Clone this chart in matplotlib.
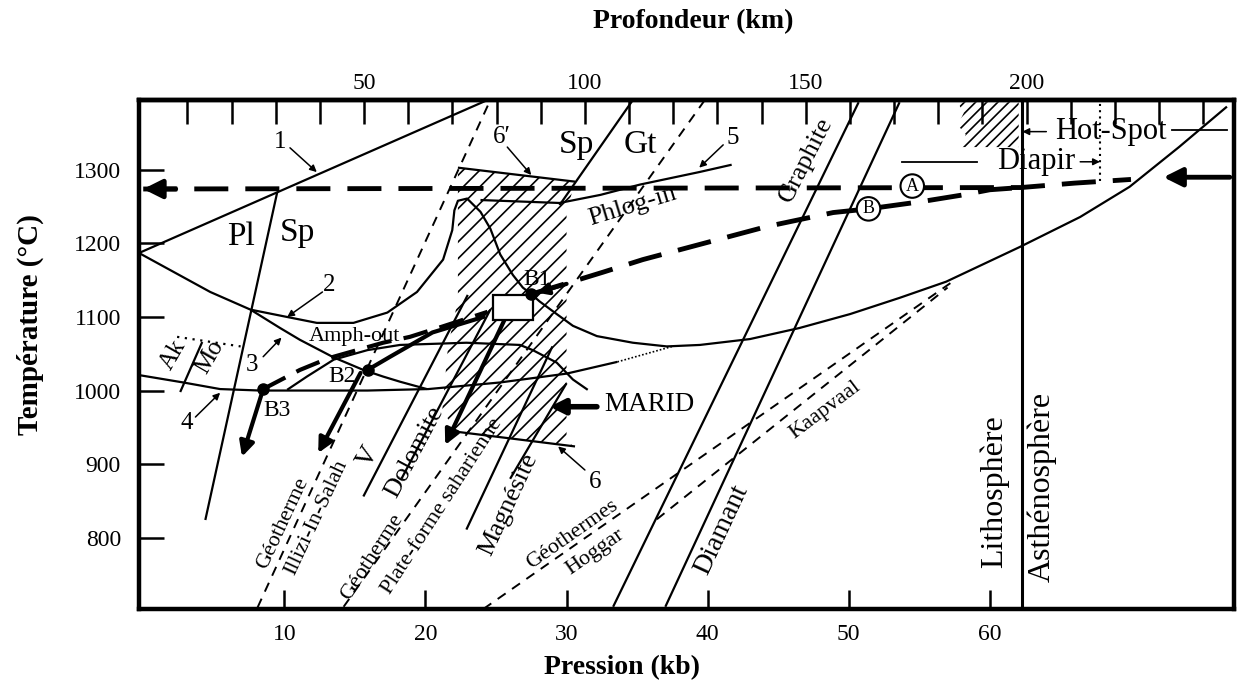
import matplotlib
matplotlib.use('Agg')
import matplotlib.pyplot as plt
from matplotlib.patches import Polygon, Rectangle

plt.rcParams['font.family'] = ['Liberation Serif', 'DejaVu Serif']
plt.rcParams['hatch.linewidth'] = 1.2

# ---------------- axes data ----------------
P_LIM = (-0.3, 77.3)
T_LIM = (703, 1395)
p_ticks = [10, 20, 30, 40, 50, 60]
t_ticks = [800, 900, 1000, 1100, 1200, 1300]
depth_ticks = list(range(10, 250, 10))
depth_labelled = [50, 100, 150, 200]
KB_PER_KM = 0.313

# ---------------- curves (P kb, T degC) ----------------
c1_P = [-0.3, 24.4]
c1_T = [1187, 1395]

c2_P = [-0.3, 4.75, 7.6, 10.2, 12.3, 14.9, 17.3, 19.4, 21.25, 21.9, 22.05, 22.3, 22.95,
        23.9, 24.6, 25.3, 26.2, 26.9, 27.5, 28.1, 29.3, 30.45, 32.15, 34.7, 37.1, 39.45,
        43.0, 46.5, 50.1, 53.6, 56.9, 62.1, 66.4, 69.9, 73.4, 76.8]
c2_T = [1187, 1134, 1110, 1100, 1092, 1092, 1106, 1134, 1178, 1218, 1245, 1258, 1261,
        1243, 1220, 1185, 1157, 1140, 1131, 1121, 1104, 1088, 1074, 1065, 1060, 1062,
        1070, 1085, 1104, 1126, 1148, 1195, 1236, 1277, 1331, 1386]

c3_P = [7.6, 9.7, 11.1, 13.5, 15.6, 17.0, 18.2, 20.1]
c3_T = [1110, 1085, 1069, 1045, 1028, 1019, 1012, 1002]

c4_P = [-0.3, 2.83, 5.45, 8.3, 11.1, 15.9, 20.2, 25.3, 30.0, 33.6]
c4_T = [1021, 1011, 1002, 1000, 1000, 1000, 1002, 1011, 1023, 1039]
c4dot_P = [33.6, 37.5]
c4dot_T = [1039, 1060]

amph_P = [10.2, 11.6, 13.5, 15.9, 18.2, 22.9, 26.7, 27.6, 29.3, 30.45, 31.5]
amph_T = [1001, 1019, 1042, 1055, 1062, 1065, 1062, 1055, 1038, 1015, 1001]

plsp_P = [9.5, 4.4]
plsp_T = [1270, 824]

akmo_P = [2.62, 4.18]
akmo_T = [998, 1066]
akmo_dot_P = [2.4, 6.9]
akmo_dot_T = [1073, 1060]

illizi_P = [8.1, 24.6]
illizi_T = [705, 1395]
pf_P = [14.2, 39.8]
pf_T = [706, 1395]
hoggar_P = [24.1, 57.2]
hoggar_T = [703, 1146]
kaap_P = [36.4, 57.0]
kaap_T = [825, 1140]

g1_P = [33.3, 50.7]
g1_T = [706, 1392]
g2_P = [37.0, 53.6]
g2_T = [706, 1392]

dol1_P = [15.6, 23.0]
dol1_T = [856, 1130]
dol2_P = [18.3, 24.6]
dol2_T = [880, 1110]
mag1_P = [22.9, 29.0]
mag1_T = [811, 1060]
mag2_P = [26.0, 30.0]
mag2_T = [880, 1010]

spgt_P = [34.7, 29.5]
spgt_T = [1395, 1252]
phlog_P = [23.9, 29.5, 32.4, 35.2, 39.4, 41.7]
phlog_T = [1259, 1255, 1266, 1280, 1297, 1307]

l6p_P = [22.3, 30.6]
l6p_T = [1303, 1284]
l6_P = [22.2, 30.6]
l6_T = [944, 924]

marid_P = [22.3, 30.6, 30.0, 30.0, 30.5, 22.1, 21.2, 21.6, 22.3]
marid_T = [1303, 1284, 1243, 930, 925, 944, 975, 1060, 1123]

hot_P = [57.72, 62.04, 62.04, 58.0, 58.29, 57.72, 58.14]
hot_T = [1392, 1392, 1331, 1331, 1348, 1361, 1377]

litho_P = 62.25
diapir_P = 67.8

pathA_P = [0.0, 30.0, 62.2, 66.0, 70.0]
pathA_T = [1274, 1275, 1276, 1282, 1287]
pathB_P = [27.5, 32.6, 35.4, 39.9, 44.2, 48.9, 51.4, 55.2, 58.1, 60.0, 62.2]
pathB_T = [1131, 1161, 1178, 1201, 1223, 1242, 1247, 1257, 1266, 1273, 1276]
pathB3_P = [8.5, 9.8, 11.1, 12.5, 13.5, 17.0, 18.9, 21.2, 24.4]
pathB3_T = [1002, 1015, 1028, 1039, 1046, 1065, 1073, 1087, 1107]
pathB2_P = [15.9, 17.5, 20.5, 24.1]
pathB2_T = [1028, 1046, 1079, 1100]

pts_name = ['B1', 'B2', 'B3']
pts_P = [27.5, 15.9, 8.5]
pts_T = [1131, 1028, 1002]

# ---------------- figure ----------------
fig = plt.figure(figsize=(12.43, 6.97), dpi=100)
ax = fig.add_axes([139/1243, 1-609/697, (1234-139)/1243, (609-100)/697])
ax.set_xlim(*P_LIM)
ax.set_ylim(*T_LIM)
for s in ax.spines.values():
    s.set_linewidth(3.2)

ax.set_xticks(p_ticks)
ax.set_yticks(t_ticks)
ax.tick_params(axis='x', direction='in', length=14, width=1.8, labelsize=17, pad=11)
ax.tick_params(axis='y', direction='in', length=18, width=1.8, labelsize=17, pad=13)

sec = ax.secondary_xaxis('top', functions=(lambda p: p / KB_PER_KM, lambda d: d * KB_PER_KM))
sec.set_xticks(depth_ticks)
sec.set_xticklabels([str(d) if d in depth_labelled else '' for d in depth_ticks])
sec.tick_params(direction='in', length=17, width=1.8, labelsize=17, pad=4)
sec.spines['top'].set_linewidth(3.2)

fig.text(693/1243, 1-22/697, 'Profondeur (km)', ha='center', va='center', fontsize=20, fontweight='bold')
fig.text(622/1243, 1-668/697, 'Pression (kb)', ha='center', va='center', fontsize=20, fontweight='bold')
fig.text(30/1243, 1-325/697, 'Température (°C)', ha='center', va='center', fontsize=21,
         fontweight='bold', rotation=90)

K = 'black'
lw = 1.6
# hatched regions
ax.add_patch(Polygon(list(zip(marid_P, marid_T)), closed=True, fill=False, hatch='//',
                     edgecolor=K, linewidth=0, zorder=1))
ax.add_patch(Polygon(list(zip(hot_P, hot_T)), closed=True, fill=False, hatch='///',
                     edgecolor=K, linewidth=0, zorder=1))

for xs, ys in [(c1_P, c1_T), (c2_P, c2_T), (c3_P, c3_T), (c4_P, c4_T), (amph_P, amph_T),
               (plsp_P, plsp_T), (akmo_P, akmo_T), (g1_P, g1_T), (g2_P, g2_T),
               (dol1_P, dol1_T), (dol2_P, dol2_T), (mag1_P, mag1_T), (mag2_P, mag2_T),
               (spgt_P, spgt_T), (phlog_P, phlog_T), (l6p_P, l6p_T), (l6_P, l6_T)]:
    ax.plot(xs, ys, color=K, lw=lw, solid_capstyle='butt', zorder=3)
ax.plot(c4dot_P, c4dot_T, color=K, lw=1.2, ls=(0, (1, 1.2)), zorder=3)
ax.plot(akmo_dot_P, akmo_dot_T, color=K, lw=1.6, ls=(0, (1, 2.5)), zorder=3)
ax.axvline(litho_P, color=K, lw=2.2, zorder=3)
ax.plot([diapir_P, diapir_P], [1285, 1392], color=K, lw=1.5, ls=(0, (1, 2)), zorder=3)

for xs, ys in [(illizi_P, illizi_T), (pf_P, pf_T), (hoggar_P, hoggar_T), (kaap_P, kaap_T)]:
    ax.plot(xs, ys, color=K, lw=1.4, ls=(0, (5, 4)), zorder=3)

# thick paths
ax.plot(pathA_P, pathA_T, color=K, lw=3.5, ls=(0, (7, 3.5)), zorder=4)
ax.plot(pathB_P, pathB_T, color=K, lw=3.5, ls=(0, (7, 3.5)), zorder=4)
ax.plot(pathB3_P, pathB3_T, color=K, lw=3.0, ls=(0, (6, 3)), zorder=4)
ax.plot(pathB2_P, pathB2_T, color=K, lw=3.0, zorder=4)

def arrow(tail, tip, lw=3.0, ms=22):
    ax.annotate('', xy=tip, xytext=tail,
                arrowprops=dict(arrowstyle='-|>', color=K, lw=lw, mutation_scale=ms,
                                shrinkA=0, shrinkB=0), zorder=6)

def thin_arrow(tail, tip):
    ax.annotate('', xy=tip, xytext=tail,
                arrowprops=dict(arrowstyle='-|>', color=K, lw=1.1, mutation_scale=10,
                                shrinkA=0, shrinkB=0), zorder=6)

arrow((2.3, pathA_T[0]), (0.0, pathA_T[0]), lw=3.5, ms=28)
arrow((77.0, 1290), (72.3, 1290), lw=3.5, ms=28)
arrow((8.5, 1002), (7.0, 910))
arrow((15.4, 1024), (12.4, 915))
arrow((25.6, 1096), (21.4, 926))
arrow((32.15, 978), (28.8, 978), lw=4, ms=22)
arrow((30.0, 1145), (27.9, 1133), lw=3, ms=16)

ax.add_patch(Rectangle((24.8, 1096), 2.8, 34, facecolor='white', edgecolor=K, lw=1.6, zorder=7))
ax.plot(pts_P, pts_T, 'o', color=K, ms=8, zorder=8)

# thin label arrows
thin_arrow((10.4, 1330), (12.3, 1297))
thin_arrow((12.7, 1134), (10.2, 1100))
thin_arrow((8.5, 1046), (9.8, 1072))
thin_arrow((3.7, 964), (5.45, 997))
thin_arrow((25.8, 1331), (27.5, 1293))
thin_arrow((31.3, 892), (29.4, 924))
thin_arrow((41.1, 1334), (39.4, 1303))

# Hot-Spot / Diapir
thin_arrow((64.0, 1352), (62.3, 1352))
ax.plot([72.9, 76.8], [1354, 1354], color=K, lw=1.3)
ax.plot([53.75, 59.1], [1311, 1311], color=K, lw=1.3)
thin_arrow((66.4, 1311), (67.8, 1311))

def lab(P, T, s, fs=16, rot=0, **kw):
    ax.text(P, T, s, fontsize=fs, rotation=rot, ha='center', va='center',
            rotation_mode='anchor', zorder=9, **kw)

lab(9.7, 1338, '1', 18)
lab(13.2, 1144, '2', 18)
lab(7.7, 1035, '3', 18)
lab(3.1, 956, '4', 18)
lab(25.4, 1345, "6′", 18)
lab(32.0, 876, '6', 18)
lab(41.8, 1343, '5', 18)
lab(6.9, 1209, 'Pl', 24)
lab(10.9, 1214, 'Sp', 24)
lab(30.7, 1334, 'Sp', 24)
lab(35.2, 1334, 'Gt', 24)
lab(15.0, 1073, 'Amph-out', 16)
lab(2.1, 1049, 'Ak', 18, 60)
lab(4.7, 1046, 'Mo', 18, 60)
lab(27.9, 1151, 'B1', 17)
lab(14.1, 1019, 'B2', 17)
lab(9.45, 973, 'B3', 17)
lab(34.7, 1250, 'Phlog-in', 19, 17)
lab(47.0, 1314, 'Graphite', 19, 63)
lab(41.0, 811, 'Diamant', 20, 65)
lab(35.9, 981, 'MARID', 19.5)
lab(9.9, 820, 'Géotherme', 16, 65)
lab(12.3, 827, 'Illizi-In-Salah', 16, 65)
lab(15.9, 910, 'V', 20, 60)
lab(19.2, 917, 'Dolomite', 19, 62)
lab(16.2, 773, 'Géotherme', 16, 57)
lab(21.2, 842, 'Plate-forme saharienne', 16, 57)
lab(25.9, 845, 'Magnésite', 19, 65)
lab(30.4, 804, 'Géothermes', 16, 35)
lab(32.0, 781, 'Hoggar', 16, 35)
lab(48.3, 974, 'Kaapvaal', 16, 37)
lab(60.3, 862, 'Lithosphère', 23, 90)
lab(63.7, 869, 'Asthénosphère', 23, 90)
lab(68.6, 1352, 'Hot-Spot', 22)
lab(63.3, 1311, 'Diapir', 22)
for P, T, s in [(54.5, 1278, 'A'), (51.4, 1247, 'B')]:
    ax.text(P, T, s, fontsize=13, ha='center', va='center', zorder=9,
            bbox=dict(boxstyle='circle,pad=0.18', fc='white', ec=K, lw=1.5))

fig.savefig('out.png', dpi=100)
